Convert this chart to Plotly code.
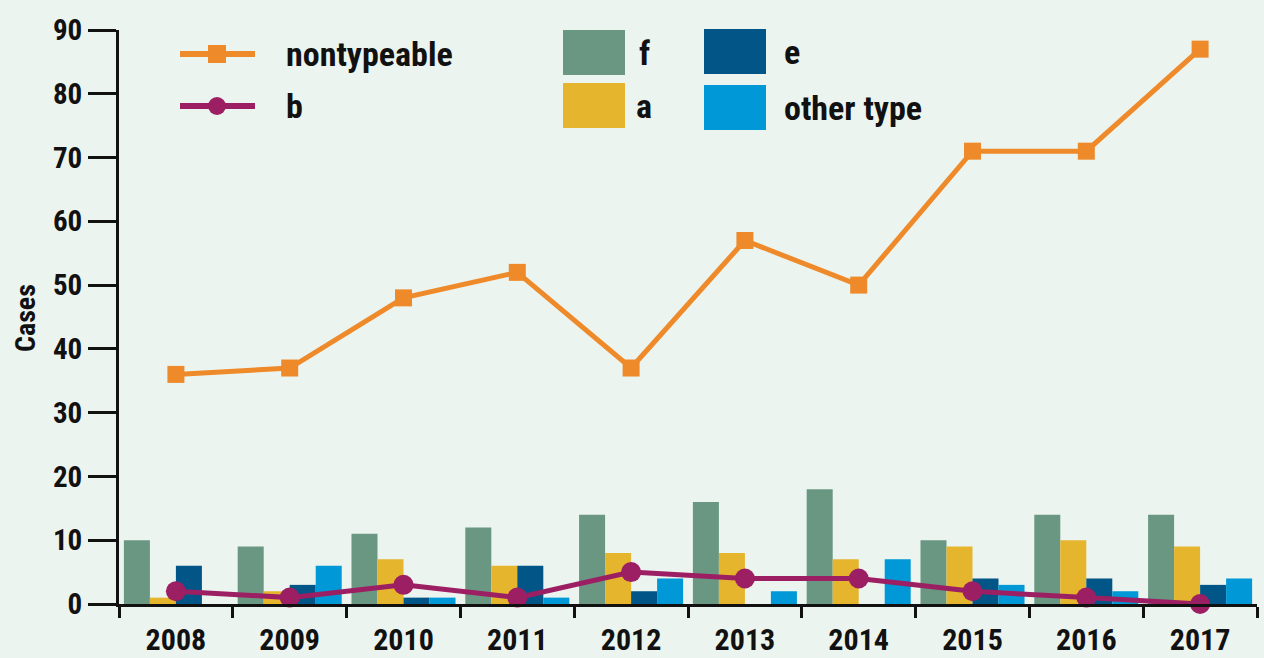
import plotly.graph_objects as go

years = ["2008", "2009", "2010", "2011", "2012", "2013", "2014", "2015", "2016", "2017"]
nontypeable = [36, 37, 48, 52, 37, 57, 50, 71, 71, 87]
type_b = [2, 1, 3, 1, 5, 4, 4, 2, 1, 0]
type_f = [10, 9, 11, 12, 14, 16, 18, 10, 14, 14]
type_a = [1, 2, 7, 6, 8, 8, 7, 9, 10, 9]
type_e = [6, 3, 1, 6, 2, 0, 0, 4, 4, 3]
type_other = [0, 6, 1, 1, 4, 2, 7, 3, 2, 4]
y_ticks = [0, 10, 20, 30, 40, 50, 60, 70, 80, 90]

C_F = "#699782"
C_A = "#E6B52E"
C_E = "#015587"
C_OTHER = "#0098D6"
C_NT = "#EE8A2A"
C_B = "#9C1F63"
BG = "#ECF4EF"
INK = "#111111"
FONT = "Liberation Sans Narrow, Roboto Condensed, Arial Narrow, sans-serif"

W, H = 1264, 658
L, R, T, B = 119, 7, 30, 54

fig = go.Figure()
for name, vals, col in [("f", type_f, C_F), ("a", type_a, C_A),
                        ("e", type_e, C_E), ("other type", type_other, C_OTHER)]:
    fig.add_trace(go.Bar(x=years, y=vals, name=name, marker=dict(color=col, line=dict(width=0)),
                         showlegend=False))

fig.add_trace(go.Scatter(x=years, y=nontypeable, name="nontypeable", mode="lines+markers",
                         line=dict(color=C_NT, width=5),
                         marker=dict(symbol="square", size=17, color=C_NT),
                         cliponaxis=False, showlegend=False))
fig.add_trace(go.Scatter(x=years, y=type_b, name="b", mode="lines+markers",
                         line=dict(color=C_B, width=5),
                         marker=dict(symbol="circle", size=20, color=C_B),
                         cliponaxis=False, showlegend=False))

pw = W - L - R
ph = H - T - B


def px(x):
    return (x - L) / pw


def py(y):
    return (H - B - y) / ph


shapes = []
annotations = []
# line legend keys
for yk, col, sym, label in [(54, C_NT, "square", "nontypeable"), (106, C_B, "circle", "b")]:
    shapes.append(dict(type="line", xref="paper", yref="paper", x0=px(180), x1=px(255),
                       y0=py(yk), y1=py(yk), line=dict(color=col, width=6)))
    if sym == "square":
        shapes.append(dict(type="rect", xref="paper", yref="paper", x0=px(208), x1=px(226),
                           y0=py(yk - 9), y1=py(yk + 9), fillcolor=col, line=dict(width=0)))
    else:
        shapes.append(dict(type="circle", xref="paper", yref="paper", x0=px(208), x1=px(226),
                           y0=py(yk - 9), y1=py(yk + 9), fillcolor=col, line=dict(width=0)))
    annotations.append(dict(xref="paper", yref="paper", x=px(284), y=py(yk), text=label,
                            showarrow=False, xanchor="left", yanchor="middle",
                            font=dict(size=34, color=INK, family=FONT, weight="bold")))
# bar legend keys
for x0, y0, col, label, tx in [(563, 30, C_F, "f", 637), (563, 83, C_A, "a", 634),
                               (704, 29, C_E, "e", 782), (704, 85, C_OTHER, "other type", 782)]:
    shapes.append(dict(type="rect", xref="paper", yref="paper", x0=px(x0), x1=px(x0 + 62),
                       y0=py(y0), y1=py(y0 + 45), fillcolor=col, line=dict(width=0)))
    annotations.append(dict(xref="paper", yref="paper", x=px(tx), y=py(y0 + 23), text=label,
                            showarrow=False, xanchor="left", yanchor="middle",
                            font=dict(size=34, color=INK, family=FONT, weight="bold")))

annotations.append(dict(xref="paper", yref="paper", x=px(25), y=py(318), text="Cases",
                        textangle=-90, showarrow=False, xanchor="center", yanchor="middle",
                        font=dict(size=28, color=INK, family=FONT, weight="bold")))

fig.update_layout(
    width=W, height=H,
    margin=dict(l=L, r=R, t=T, b=B, autoexpand=False),
    paper_bgcolor=BG, plot_bgcolor=BG,
    barmode="group", bargap=0.086, bargroupgap=0,
    shapes=shapes, annotations=annotations,
    showlegend=False,
    font=dict(family=FONT, color=INK),
)
fig.update_xaxes(type="category", range=[-0.5, 9.5], showline=True, linecolor=INK, linewidth=3,
                 ticks="outside", tickson="boundaries", ticklen=11, tickwidth=3, tickcolor=INK,
                 showgrid=False, zeroline=False,
                 tickfont=dict(size=30, color=INK, family=FONT, weight="bold"),
                 ticklabelstandoff=7)
fig.update_yaxes(range=[0, 90], tickvals=y_ticks, showline=True, linecolor=INK, linewidth=3,
                 ticks="outside", ticklen=28, tickwidth=3, tickcolor=INK,
                 showgrid=False, zeroline=False,
                 tickfont=dict(size=29, color=INK, family=FONT, weight="bold"))

fig.write_html("out.html", config={"displayModeBar": False},
               post_script="document.body.style.margin='0px';document.body.style.background='" + BG + "';")
